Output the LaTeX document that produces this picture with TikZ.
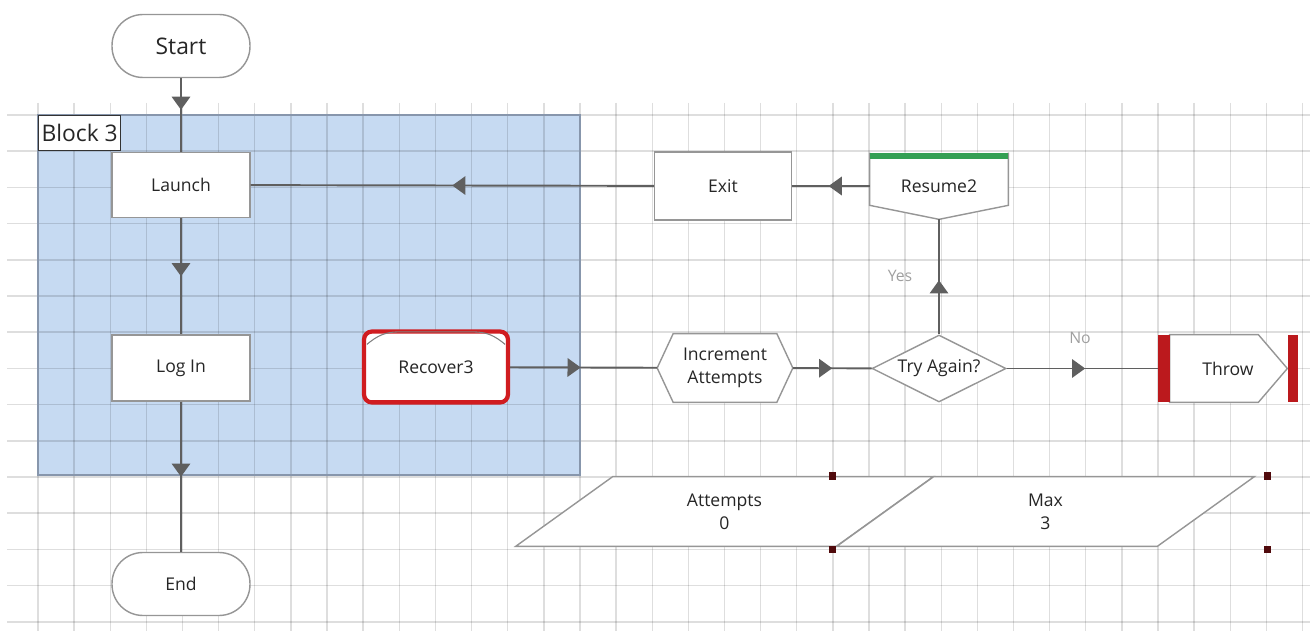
\documentclass[tikz,border=0pt]{standalone}
\usepackage{fontspec}
\setmainfont{Open Sans}
\usetikzlibrary{shapes.geometric,decorations.markings,arrows.meta,backgrounds}

\definecolor{blockblue}{RGB}{198,218,242}
\definecolor{blockedge}{RGB}{135,150,172}
\definecolor{edgegray}{RGB}{150,150,150}
\definecolor{linegray}{RGB}{95,95,95}
\definecolor{errred}{RGB}{208,28,32}
\definecolor{okgreen}{RGB}{52,160,84}
\definecolor{handle}{RGB}{80,10,12}

\begin{document}
\begin{tikzpicture}[x=0.02cm,y=-0.02cm,
      font=\fontsize{10}{13}\selectfont,text=black!85,
      term/.style={draw=edgegray,line width=0.8pt,fill=white,minimum width=2.76cm,minimum height=1.26cm,rounded corners=0.62cm},
      proc/.style={draw=edgegray,line width=0.8pt,fill=white,minimum width=2.76cm,minimum height=1.32cm},
      bare/.style={inner sep=0pt,align=center},
      outline/.style={draw=edgegray,line width=0.8pt,fill=white},
      flow/.style={draw=linegray,line width=1.1pt,postaction={decorate},
          decoration={markings,mark=at position #1 with {\arrow{Triangle[length=7.5pt,width=10.5pt]}}}},
      flow/.default=0.5,
      note/.style={text=gray!75,font=\fontsize{9}{11}\selectfont},
      gridline/.style={black,opacity=0.13,line width=0.8pt}
]
      \useasboundingbox (0,0) rectangle (1312,631);

      % sheet
      \begin{scope}[on background layer]
          \fill[blockblue] (38,115) rectangle (580,475);
          \foreach \k in {0,...,35}
              \draw[gridline] ({38+36.13*\k},103) -- ({38+36.13*\k},631);
          \foreach \j in {0,...,14}
              \draw[gridline] (7,{115+36.2*\j}) -- (1310,{115+36.2*\j});
          \draw[blockedge,line width=0.8pt] (38,115) rectangle (580,475);
      \end{scope}
      \node[draw=black!80,line width=0.8pt,fill=white,anchor=north west,inner sep=1pt,
            minimum width=1.64cm,minimum height=0.7cm,font=\fontsize{13}{15}\selectfont] (blk) at (38,115) {Block 3};

      \node[term,font=\fontsize{13}{15}\selectfont] (start) at (181,46) {Start};
      \node[proc,minimum height=1.3cm] (launch) at (181,185) {Launch};
      \node[proc] (login) at (181,368) {Log In};
      \node[term] (fin) at (181,584) {End};
      \node[proc,minimum width=2.74cm,minimum height=1.36cm] (exit) at (723,186) {Exit};

      \node[draw=errred,line width=2.4pt,fill=white,rounded corners=0.16cm,
            minimum width=2.88cm,minimum height=1.42cm] (rec) at (436,367) {Recover3};
      \draw[errred,line width=2pt] ([xshift=0.14cm,yshift=0.06cm]rec.south west) -- ([xshift=-0.14cm,yshift=0.06cm]rec.south east);
      \draw[gray,line width=0.6pt] ([xshift=0.1cm,yshift=-0.3cm]rec.north west) to[out=40,in=180] ([xshift=-0.75cm,yshift=-0.05cm]rec.north)
          -- ([xshift=0.75cm,yshift=-0.05cm]rec.north) to[out=0,in=140] ([xshift=-0.1cm,yshift=-0.3cm]rec.north east);

      \node[bare,minimum width=2.7cm,minimum height=1.36cm] (inc) at (725,368) {Increment\\Attempts};
      \node[diamond,aspect=2,outline,inner sep=0pt,minimum width=2.68cm,minimum height=1.34cm] (try) at (939,368.5) {Try Again?};
      \node[bare,minimum width=2.76cm,minimum height=1.32cm] (res) at (939,186) {Resume2};
      \node[bare,minimum width=2.8cm,minimum height=1.34cm] (thr) at (1228,368.5) {Throw};
      \node[bare,minimum width=8.34cm,minimum height=1.38cm] (att) at (724.5,511.5) {Attempts\\0};
      \node[bare,minimum width=8.34cm,minimum height=1.38cm] (max) at (1045.5,511.5) {Max\\3};

      \begin{scope}[on background layer]
          \draw[outline] (inc.west) -- ([xshift=0.32cm]inc.north west) -- ([xshift=-0.32cm]inc.north east) -- (inc.east)
              -- ([xshift=-0.32cm]inc.south east) -- ([xshift=0.32cm]inc.south west) -- cycle;
          \draw[outline] (res.north west) -- ([yshift=0.28cm]res.south west) -- (res.south)
              -- ([yshift=0.28cm]res.south east) -- (res.north east);
          \draw[okgreen,line width=3.4pt] ([yshift=-0.06cm]res.north west) -- ([yshift=-0.06cm]res.north east);
          \draw[outline] ([xshift=0.24cm]thr.north west) -- ([xshift=-0.8cm]thr.north east) -- ([xshift=-0.22cm]thr.east)
              -- ([xshift=-0.8cm]thr.south east) -- ([xshift=0.24cm]thr.south west) -- cycle;
          \fill[errred!90!black] (thr.north west) rectangle ([xshift=0.24cm]thr.south west);
          \fill[errred!90!black] ([xshift=-0.2cm]thr.north east) rectangle (thr.south east);
          \draw[outline] ([xshift=1.94cm]att.north west) -- (att.north east) -- ([xshift=-1.94cm]att.south east) -- (att.south west) -- cycle;
          \draw[outline] ([xshift=1.94cm]max.north west) -- (max.north east) -- ([xshift=-1.94cm]max.south east) -- (max.south west) -- cycle;
      \end{scope}
      \foreach \hx/\hy in {832/476,832/549,1267/476,1267/549}
          \fill[handle] ({\hx-3.5},{\hy-3.5}) rectangle ({\hx+3.5},{\hy+3.5});

      \draw[flow=0.43] (start) -- (launch);
      \draw[flow] (launch) -- (login);
      \draw[flow] (login) -- (fin);
      \draw[flow=0.48] (rec) -- (inc);
      \draw[flow] (inc) -- (try);
      \draw[flow=0.52] (try) -- (thr);
      \draw[flow=0.47] (try) -- (res);
      \draw[flow=0.53] (res) -- (exit);
      \draw[flow] (exit) -- (launch);

      \node[note] (yes) at (900,276) {Yes};
      \node[note] (no) at (1080,338) {No};
\end{tikzpicture}
\end{document}
